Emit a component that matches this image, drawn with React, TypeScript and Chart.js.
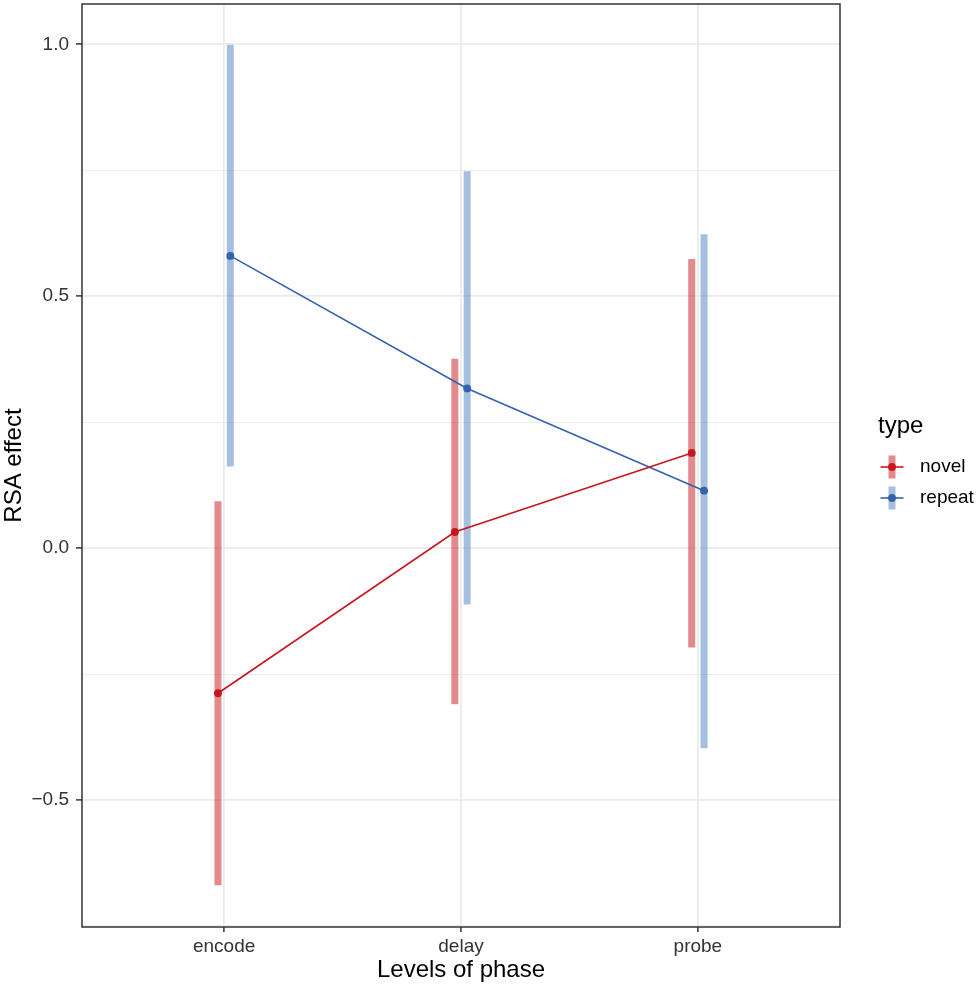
import { useEffect, useRef } from 'react';
import { Chart, registerables } from 'chart.js';

Chart.register(...registerables);

const phases = ['encode', 'delay', 'probe'];
const types = ['novel', 'repeat'];
const novelMean = [-0.288, 0.032, 0.189];
const novelLower = [-0.669, -0.31, -0.197];
const novelUpper = [0.093, 0.376, 0.574];
const repeatMean = [0.58, 0.317, 0.114];
const repeatLower = [0.162, -0.112, -0.397];
const repeatUpper = [0.999, 0.748, 0.623];
const yMajorTicks = [-0.5, 0, 0.5, 1.0];
const yMinorTicks = [-0.75, -0.25, 0.25, 0.75];
const yTickLabels = ['\u22120.5', '0.0', '0.5', '1.0'];

const DODGE = 0.026;
const NOVEL_LINE = '#C8161E';
const REPEAT_LINE = '#3463AD';
const NOVEL_BAR = 'rgba(200,22,30,0.5)';
const REPEAT_BAR = 'rgba(79,127,189,0.5)';
const FONT = "'Liberation Sans', Arial, Helvetica, sans-serif";

function meanPoints(offset: number, means: number[]) {
  return phases.map((_, i) => ({ x: i + offset, y: means[i] }));
}

function ciSegments(offset: number, lower: number[], upper: number[]) {
  const pts: { x: number; y: number | null }[] = [];
  phases.forEach((_, i) => {
    pts.push({ x: i + offset, y: lower[i] });
    pts.push({ x: i + offset, y: upper[i] });
    pts.push({ x: i + offset, y: null });
  });
  return pts;
}

const panelBorder = {
  id: 'panelBorder',
  afterDraw(chart: any) {
    const { ctx, chartArea } = chart;
    ctx.save();
    ctx.strokeStyle = '#333333';
    ctx.lineWidth = 1.5;
    ctx.strokeRect(chartArea.left, chartArea.top, chartArea.right - chartArea.left, chartArea.bottom - chartArea.top);
    ctx.restore();
  },
};

const legendKeys = {
  id: 'legendKeys',
  afterDraw(chart: any) {
    const { ctx } = chart;
    ctx.save();
    ctx.fillStyle = '#000000';
    ctx.font = `24px ${FONT}`;
    ctx.textAlign = 'left';
    ctx.textBaseline = 'alphabetic';
    ctx.fillText('type', 878, 433);
    const rows = [
      { label: types[0], line: NOVEL_LINE, bar: NOVEL_BAR, y: 467 },
      { label: types[1], line: REPEAT_LINE, bar: REPEAT_BAR, y: 498 },
    ];
    const cx = 892;
    rows.forEach((r) => {
      ctx.fillStyle = r.bar;
      ctx.fillRect(cx - 3.5, r.y - 11.5, 7, 23);
      ctx.strokeStyle = r.line;
      ctx.lineWidth = 1.6;
      ctx.beginPath();
      ctx.moveTo(cx - 11.5, r.y);
      ctx.lineTo(cx + 11.5, r.y);
      ctx.stroke();
      ctx.fillStyle = r.line;
      ctx.beginPath();
      ctx.arc(cx, r.y, 3.9, 0, Math.PI * 2);
      ctx.fill();
      ctx.fillStyle = '#000000';
      ctx.font = `19px ${FONT}`;
      ctx.textBaseline = 'middle';
      ctx.fillText(r.label, 920, r.y);
    });
    ctx.restore();
  },
};

export default function App() {
  const ref = useRef<HTMLCanvasElement | null>(null);

  useEffect(() => {
    if (!ref.current) return;
    const chart = new Chart(ref.current, {
      type: 'line',
      data: {
        datasets: [
          {
            label: 'novel',
            data: meanPoints(-DODGE, novelMean),
            borderColor: NOVEL_LINE,
            backgroundColor: NOVEL_LINE,
            borderWidth: 1.6,
            pointRadius: 3.9,
            pointBorderWidth: 0,
            order: 1,
          },
          {
            label: 'repeat',
            data: meanPoints(DODGE, repeatMean),
            borderColor: REPEAT_LINE,
            backgroundColor: REPEAT_LINE,
            borderWidth: 1.6,
            pointRadius: 3.9,
            pointBorderWidth: 0,
            order: 1,
          },
          {
            label: 'novel CI',
            data: ciSegments(-DODGE, novelLower, novelUpper),
            borderColor: NOVEL_BAR,
            borderWidth: 7,
            borderCapStyle: 'butt',
            pointRadius: 0,
            spanGaps: false,
            order: 2,
          },
          {
            label: 'repeat CI',
            data: ciSegments(DODGE, repeatLower, repeatUpper),
            borderColor: REPEAT_BAR,
            borderWidth: 7,
            borderCapStyle: 'butt',
            pointRadius: 0,
            spanGaps: false,
            order: 2,
          },
        ],
      },
      options: {
        animation: false,
        responsive: false,
        events: [],
        layout: { padding: { left: 0, right: 136, top: 3, bottom: 0 } },
        plugins: {
          legend: { display: false },
          tooltip: { enabled: false },
        },
        scales: {
          x: {
            type: 'linear',
            min: -0.6,
            max: 2.6,
            afterBuildTicks: (scale: any) => {
              scale.ticks = phases.map((_, i) => ({ value: i }));
            },
            afterFit: (scale: any) => {
              scale.height = 61;
              scale.paddingLeft = 0;
              scale.paddingRight = 0;
            },
            ticks: {
              autoSkip: false,
              maxRotation: 0,
              padding: 3,
              color: '#333333',
              font: { family: FONT, size: 19 },
              callback: (value: any) => phases[value as number] ?? '',
            },
            grid: {
              color: '#EBEBEB',
              lineWidth: 1.8,
              tickColor: '#333333',
              tickWidth: 1.5,
              tickLength: 5,
            },
            border: { display: false },
            title: {
              display: true,
              text: 'Levels of phase',
              color: '#000000',
              font: { family: FONT, size: 24, lineHeight: 1 },
              padding: { top: 0, bottom: 6 },
            },
          },
          y: {
            type: 'linear',
            min: -0.752,
            max: 1.08,
            afterBuildTicks: (scale: any) => {
              scale.ticks = [...yMajorTicks, ...yMinorTicks]
                .sort((a, b) => a - b)
                .map((v) => ({ value: v }));
            },
            afterFit: (scale: any) => {
              scale.width = 82;
              scale.paddingTop = 0;
              scale.paddingBottom = 0;
            },
            ticks: {
              autoSkip: false,
              padding: 7,
              color: '#333333',
              font: { family: FONT, size: 19 },
              callback: (value: any) => {
                const i = yMajorTicks.indexOf(value as number);
                return i >= 0 ? yTickLabels[i] : '';
              },
            },
            grid: {
              color: '#EBEBEB',
              lineWidth: (ctx: any) => (yMajorTicks.includes(ctx.tick?.value) ? 1.8 : 0.9),
              tickColor: (ctx: any) => (yMajorTicks.includes(ctx.tick?.value) ? '#333333' : 'rgba(0,0,0,0)'),
              tickWidth: 1.5,
              tickLength: 6,
            },
            border: { display: false },
            title: {
              display: true,
              text: 'RSA effect',
              color: '#000000',
              font: { family: FONT, size: 24, lineHeight: 1 },
              padding: { top: 2, bottom: 0 },
            },
          },
        },
      },
      plugins: [panelBorder, legendKeys],
    } as any);
    return () => chart.destroy();
  }, []);

  return (
    <div style={{ position: 'fixed', left: 0, top: 0, width: 976, height: 988, background: '#ffffff' }}>
      <canvas ref={ref} width={976} height={988} style={{ display: 'block', width: 976, height: 988 }} />
    </div>
  );
}
